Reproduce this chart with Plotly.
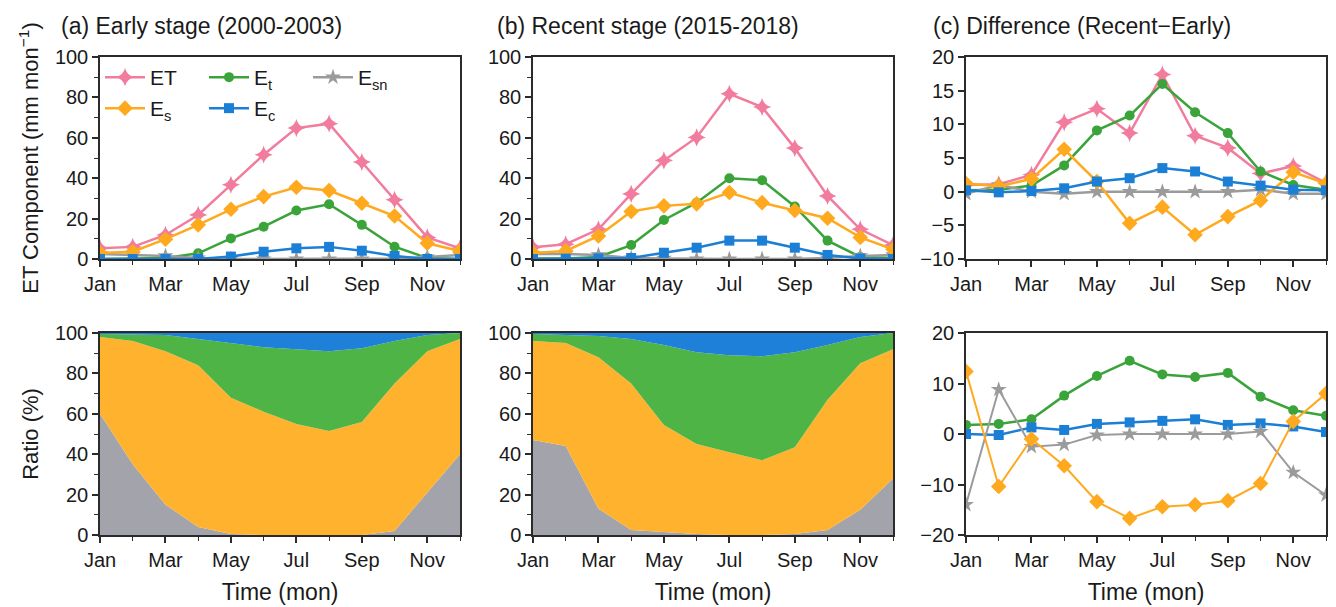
import plotly.graph_objects as go

months = list(range(1, 13))
month_labels = ["Jan", "Mar", "May", "Jul", "Sep", "Nov"]
month_ticks = [1, 3, 5, 7, 9, 11]

# (a) Early stage (2000-2003), mm/mon
early_ET  = [5.3, 6.0, 11.9, 21.8, 36.7, 51.6, 64.8, 67.0, 48.0, 29.3, 10.7, 5.3]
early_Es  = [3.0, 3.6, 9.8, 16.9, 24.6, 30.9, 35.5, 33.9, 27.6, 21.3, 7.8, 4.0]
early_Et  = [0.0, 0.2, 0.5, 2.8, 10.2, 16.0, 24.0, 27.1, 16.9, 6.1, 0.5, 0.0]
early_Ec  = [0.0, 0.0, 0.0, 0.0, 1.2, 3.6, 5.3, 6.0, 4.1, 1.5, 0.0, 0.0]
early_Esn = [2.5, 2.0, 1.5, 0.5, 0.0, 0.0, 0.0, 0.0, 0.0, 0.3, 1.0, 2.0]

# (b) Recent stage (2015-2018), mm/mon
recent_ET  = [5.8, 7.3, 14.7, 32.2, 48.8, 60.2, 81.8, 75.2, 54.9, 31.2, 14.7, 6.9]
recent_Es  = [3.0, 4.0, 11.4, 23.5, 26.3, 27.3, 32.9, 27.9, 24.0, 20.2, 10.7, 4.8]
recent_Et  = [0.2, 0.3, 1.0, 6.9, 19.3, 27.9, 40.0, 39.0, 26.0, 9.1, 1.0, 0.5]
recent_Ec  = [0.0, 0.2, 0.3, 0.5, 3.1, 5.6, 9.1, 9.1, 5.6, 2.0, 0.2, 0.0]
recent_Esn = [2.5, 2.5, 2.0, 0.5, 0.3, 0.0, 0.0, 0.0, 0.0, 0.5, 1.5, 2.0]

# (c) Difference (Recent-Early), mm/mon
diff_ET  = [1.0, 1.1, 2.5, 10.3, 12.3, 8.7, 17.4, 8.3, 6.5, 2.7, 3.8, 1.3]
diff_Es  = [1.2, 0.8, 1.9, 6.3, 1.5, -4.7, -2.3, -6.4, -3.7, -1.3, 2.9, 1.2]
diff_Et  = [0.2, 0.3, 0.9, 3.9, 9.1, 11.3, 16.0, 11.8, 8.7, 3.0, 1.0, 0.3]
diff_Ec  = [0.2, -0.1, 0.1, 0.5, 1.5, 2.0, 3.5, 3.0, 1.5, 0.9, 0.3, 0.2]
diff_Esn = [-0.3, 1.0, 0.0, -0.3, 0.0, 0.0, 0.0, 0.0, 0.0, 0.3, -0.3, -0.3]

# Ratios (%) early
ratio_early_Esn = [60, 35, 15, 4, 0.5, 0, 0, 0, 0, 2, 21, 40]
ratio_early_Es  = [38, 61, 76, 80, 67.5, 61, 55, 51.5, 56, 73, 70, 57]
ratio_early_Et  = [1.5, 3.3, 8, 13, 27, 32, 37, 39.5, 36.5, 21, 8, 3]
ratio_early_Ec  = [0.5, 0.7, 1, 3, 5, 7, 8, 9, 7.5, 4, 1, 0]

# Ratios (%) recent
ratio_recent_Esn = [47, 44, 13, 2.5, 1.5, 0.5, 0, 0, 0.5, 2.5, 12.5, 28]
ratio_recent_Es  = [49, 51, 75, 72.5, 53, 44.5, 41, 37, 43, 64.5, 72.5, 64]
ratio_recent_Et  = [3.5, 4, 10.5, 22, 39.5, 45.5, 48, 51.5, 47, 27, 13, 8]
ratio_recent_Ec  = [0.5, 1, 1.5, 3, 6, 9.5, 11, 11.5, 9.5, 6, 2, 0]

# Ratio difference (Recent-Early), %
rdiff_Es  = [12.4, -10.4, -1.0, -6.3, -13.4, -16.7, -14.4, -14.0, -13.2, -9.8, 2.5, 8.0]
rdiff_Et  = [1.8, 2.0, 2.9, 7.6, 11.5, 14.5, 11.8, 11.3, 12.1, 7.4, 4.7, 3.6]
rdiff_Ec  = [0.0, -0.2, 1.3, 0.8, 2.0, 2.3, 2.6, 2.9, 1.8, 2.1, 1.5, 0.4]
rdiff_Esn = [-14.0, 8.8, -2.5, -2.1, -0.2, 0.0, 0.0, 0.0, 0.0, 0.5, -7.6, -12.1]

C_ET = "#F27C9E"
C_ES = "#FFA91F"
C_ET_t = "#3AA43A"
C_EC = "#1C7FD6"
C_ESN = "#9B9B9B"

A_ESN = "#A3A3AB"
A_ES = "#FFB22E"
A_ET = "#4DB445"
A_EC = "#1E80D8"

FONT = "Arial, Liberation Sans, sans-serif"
OFF = 8  # default page body margin
W, H = 1336 - OFF, 607 - OFF

def fx(px):
    return (px - OFF) / W

def fy(py):
    return 1 - (py - OFF) / H

xdom = [[fx(100), fx(460)], [fx(533), fx(893)], [fx(966), fx(1326)]]
ydom_top = [fy(259), fy(57)]
ydom_bot = [fy(535), fy(333)]

fig = go.Figure()

names = {
    "ET": "ET",
    "Es": "E<sub>s</sub>",
    "Et": "E<sub>t</sub>",
    "Ec": "E<sub>c</sub>",
    "Esn": "E<sub>sn</sub>",
}
styles = {
    "ET": (C_ET, "star-diamond", 13),
    "Es": (C_ES, "diamond", 12),
    "Et": (C_ET_t, "circle", 10),
    "Ec": (C_EC, "square", 10),
    "Esn": (C_ESN, "star", 12),
}
legend_of = {"ET": "legend", "Et": "legend", "Esn": "legend", "Es": "legend2", "Ec": "legend2"}

def add_lines(series, xa, ya, show, width=2.5):
    for key in ["ET", "Et", "Esn", "Es", "Ec"]:
        col, sym, sz = styles[key]
        fig.add_trace(go.Scatter(
            x=months, y=series[key], mode="lines+markers",
            name=names[key], legend=legend_of[key], showlegend=show,
            line=dict(color=col, width=width),
            marker=dict(color=col, symbol=sym, size=sz),
            xaxis=xa, yaxis=ya,
        ))

add_lines({"ET": early_ET, "Es": early_Es, "Et": early_Et, "Ec": early_Ec, "Esn": early_Esn}, "x", "y", True)
add_lines({"ET": recent_ET, "Es": recent_Es, "Et": recent_Et, "Ec": recent_Ec, "Esn": recent_Esn}, "x2", "y2", False)
add_lines({"ET": diff_ET, "Es": diff_Es, "Et": diff_Et, "Ec": diff_Ec, "Esn": diff_Esn}, "x3", "y3", False)

def add_area(esn, es, et, ec, xa, ya, grp):
    for vals, col in [(esn, A_ESN), (es, A_ES), (et, A_ET), (ec, A_EC)]:
        fig.add_trace(go.Scatter(
            x=months, y=vals, mode="lines", stackgroup=grp,
            line=dict(width=0, color=col), fillcolor=col,
            showlegend=False, xaxis=xa, yaxis=ya,
        ))

add_area(ratio_early_Esn, ratio_early_Es, ratio_early_Et, ratio_early_Ec, "x4", "y4", "g1")
add_area(ratio_recent_Esn, ratio_recent_Es, ratio_recent_Et, ratio_recent_Ec, "x5", "y5", "g2")

for key, vals in [("Et", rdiff_Et), ("Ec", rdiff_Ec), ("Esn", rdiff_Esn), ("Es", rdiff_Es)]:
    col, sym, sz = styles[key]
    fig.add_trace(go.Scatter(
        x=months, y=vals, mode="lines+markers", showlegend=False,
        line=dict(color=col, width=2.5 if key in ("Et", "Ec") else 2),
        marker=dict(color=col, symbol=sym, size=sz),
        xaxis="x6", yaxis="y6",
    ))

axcol = "#2b2b2b"
tickfont = dict(family=FONT, size=20, color="#1a1a1a")

def xaxis(dom, anchor, title=None):
    d = dict(
        domain=dom, anchor=anchor, range=[1, 12], automargin=False,
        tickmode="array", tickvals=month_ticks, ticktext=month_labels,
        ticks="outside", ticklen=6, tickwidth=1.5, tickcolor=axcol,
        minor=dict(tickmode="array", tickvals=[2, 4, 6, 8, 10, 12], ticks="outside", ticklen=4, tickwidth=1.2, tickcolor=axcol),
        showline=True, linecolor=axcol, linewidth=1.5, mirror=True,
        showgrid=False, zeroline=False, tickfont=tickfont,
    )
    if title:
        d["title"] = dict(text=title, font=dict(family=FONT, size=23, color="#1a1a1a"), standoff=14)
    return d

def yaxis(dom, anchor, rng, dtick, minor_dtick=None, title=None, standoff=10):
    d = dict(
        domain=dom, anchor=anchor, range=rng, tick0=rng[0], dtick=dtick, automargin=False,
        ticks="outside", ticklen=6, tickwidth=1.5, tickcolor=axcol,
        showline=True, linecolor=axcol, linewidth=1.5, mirror=True,
        showgrid=False, zeroline=False, tickfont=tickfont,
    )
    if minor_dtick:
        d["minor"] = dict(dtick=minor_dtick, ticks="outside", ticklen=4, tickwidth=1.2, tickcolor=axcol)
    if title:
        d["title"] = dict(text=title, font=dict(family=FONT, size=22, color="#1a1a1a"), standoff=standoff)
    return d

leg_common = dict(
    orientation="h", xanchor="left", yanchor="top",
    bgcolor="rgba(0,0,0,0)", font=dict(family=FONT, size=21, color="#1a1a1a"),
    entrywidth=49, entrywidthmode="pixels", traceorder="normal",
    itemwidth=40, tracegroupgap=0,
)

fig.update_layout(
    width=W, height=H,
    margin=dict(l=0, r=0, t=0, b=0, autoexpand=False),
    paper_bgcolor="white", plot_bgcolor="white",
    font=dict(family=FONT),
    xaxis=xaxis(xdom[0], "y"),
    xaxis2=xaxis(xdom[1], "y2"),
    xaxis3=xaxis(xdom[2], "y3"),
    xaxis4=xaxis(xdom[0], "y4", "Time (mon)"),
    xaxis5=xaxis(xdom[1], "y5", "Time (mon)"),
    xaxis6=xaxis(xdom[2], "y6", "Time (mon)"),
    yaxis=yaxis(ydom_top, "x", [0, 100], 20, 10, "ET Component (mm mon<sup>−1</sup>)"),
    yaxis2=yaxis(ydom_top, "x2", [0, 100], 20, 10),
    yaxis3=yaxis(ydom_top, "x3", [-10, 20], 5),
    yaxis4=yaxis(ydom_bot, "x4", [0, 100], 20, 10, "Ratio (%)"),
    yaxis5=yaxis(ydom_bot, "x5", [0, 100], 20, 10),
    yaxis6=yaxis(ydom_bot, "x6", [-20, 20], 10),
    legend=dict(x=fx(100), y=fy(57), **leg_common),
    legend2=dict(x=fx(100), y=fy(88), **leg_common),
)

titles = [
    (59, "(a) Early stage (2000-2003)"),
    (495, "(b) Recent stage (2015-2018)"),
    (931, "(c) Difference (Recent−Early)"),
]
for xp, txt in titles:
    fig.add_annotation(
        x=fx(xp), y=fy(26), xref="paper", yref="paper",
        xanchor="left", yanchor="middle", showarrow=False, text=txt,
        font=dict(family=FONT, size=23, color="#1a1a1a"),
    )

fig.write_html("out.html")
